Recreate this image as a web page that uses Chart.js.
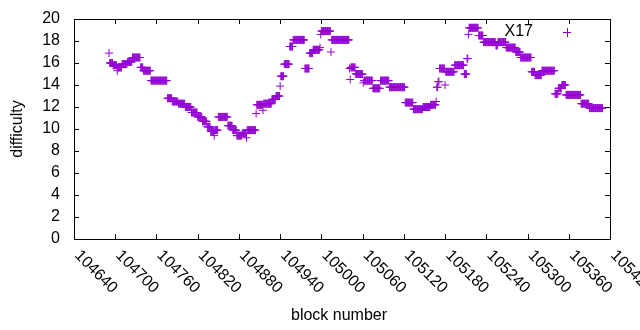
<!DOCTYPE html>
<html>
<head>
<meta charset="utf-8">
<script src="https://cdn.jsdelivr.net/npm/chart.js@4"></script>
<style>
  html, body { margin: 0; padding: 0; background: #fff; }
  #chart { display: block; }
</style>
</head>
<body>
<canvas id="chart" width="640" height="330"></canvas>
<script>
// difficulty per block, stored as runs of equal value starting at FIRST_BLOCK
const FIRST_BLOCK = 104691;
const runValues = [
  16.9, 16.0, 15.8, 15.3, 15.6, 15.9, 16.1, 16.5, 15.6, 15.3,
  14.4, 12.8, 12.5, 12.3, 12.0, 11.5, 11.1, 10.7, 10.2, 9.8,
  9.4, 9.9, 11.1, 10.3, 9.9, 9.4, 9.6, 9.2, 9.9, 11.4,
  12.2, 11.7, 12.3, 12.7, 13.0, 13.9, 14.8, 15.9, 17.5, 18.1,
  15.5, 16.9, 17.2, 17.4, 18.6, 18.9, 17.0, 18.1, 15.5, 14.5,
  15.6, 15.0, 14.2, 14.4, 13.7, 14.4, 13.8, 12.4, 11.8, 12.0,
  12.2, 12.5, 13.8, 14.3, 15.5, 14.0, 15.2, 15.8, 15.0, 16.4,
  18.6, 19.2, 18.5, 17.9, 17.6, 17.9, 17.4, 17.0, 16.5, 15.2,
  14.9, 15.3, 13.2, 13.7, 14.0, 13.1, 12.3, 11.9
];
const runLengths = [
  1, 5, 6, 1, 6, 8, 7, 12, 4, 11,
  24, 7, 9, 10, 9, 9, 7, 7, 5, 5,
  1, 5, 14, 7, 6, 8, 6, 1, 13, 1,
  9, 1, 12, 6, 6, 1, 5, 8, 5, 17,
  7, 5, 10, 1, 1, 14, 1, 26, 1, 1,
  7, 11, 1, 13, 11, 13, 23, 12, 14, 11,
  8, 1, 2, 2, 8, 1, 13, 14, 4, 2,
  1, 14, 7, 18, 3, 12, 14, 7, 16, 5,
  10, 19, 5, 5, 6, 22, 12, 20
];

const xTicks = [104640, 104700, 104760, 104820, 104880, 104940, 105000,
  105060, 105120, 105180, 105240, 105300, 105360, 105420];
const yTicks = [0, 2, 4, 6, 8, 10, 12, 14, 16, 18, 20];

const SERIES_LABEL = 'X17';
const COLOR = '#9400d3';
const FONT = '16px "Liberation Sans", Arial, sans-serif';
const TICK_LEN = 5;

const points = [];
let block = FIRST_BLOCK;
runValues.forEach((v, i) => {
  for (let k = 0; k < runLengths[i]; k++) {
    points.push({ x: block, y: v });
    block++;
  }
});

const gnuplotFrame = {
  id: 'gnuplotFrame',
  afterDraw(chart) {
    const { ctx, chartArea: a, scales: { x, y } } = chart;
    const L = Math.round(a.left), R = Math.round(a.right);
    const T = Math.round(a.top), B = Math.round(a.bottom);
    ctx.save();
    ctx.strokeStyle = '#000';
    ctx.lineWidth = 1;
    ctx.strokeRect(L + 0.5, T + 0.5, R - L, B - T);

    ctx.beginPath();
    xTicks.forEach(v => {
      const px = Math.round(x.getPixelForValue(v)) + 0.5;
      ctx.moveTo(px, B); ctx.lineTo(px, B - TICK_LEN);
      ctx.moveTo(px, T); ctx.lineTo(px, T + TICK_LEN);
    });
    yTicks.forEach(v => {
      const py = Math.round(y.getPixelForValue(v)) + 0.5;
      ctx.moveTo(L, py); ctx.lineTo(L + TICK_LEN, py);
      ctx.moveTo(R, py); ctx.lineTo(R - TICK_LEN, py);
    });
    ctx.stroke();

    ctx.fillStyle = '#000';
    ctx.font = FONT;
    ctx.textAlign = 'right';
    ctx.textBaseline = 'middle';
    yTicks.forEach(v => {
      ctx.fillText(String(v), L - 14, y.getPixelForValue(v));
    });

    ctx.textAlign = 'left';
    xTicks.forEach(v => {
      ctx.save();
      ctx.translate(x.getPixelForValue(v) + 3, B + 14);
      ctx.rotate(Math.PI / 4);
      ctx.fillText(String(v), 0, 0);
      ctx.restore();
    });

    // axis titles
    ctx.textAlign = 'center';
    ctx.fillText('block number', 339, 316);
    ctx.save();
    ctx.translate(18, (T + B) / 2);
    ctx.rotate(-Math.PI / 2);
    ctx.fillText('difficulty', 0, 0);
    ctx.restore();

    // key, gnuplot style: text then sample point
    ctx.textAlign = 'right';
    ctx.fillText(SERIES_LABEL, 533, 32);
    ctx.strokeStyle = COLOR;
    ctx.beginPath();
    ctx.moveTo(563, 32.5); ctx.lineTo(571, 32.5);
    ctx.moveTo(567.5, 28); ctx.lineTo(567.5, 37);
    ctx.stroke();
    ctx.restore();
  }
};

new Chart(document.getElementById('chart'), {
  type: 'scatter',
  data: {
    datasets: [{
      label: SERIES_LABEL,
      data: points,
      pointStyle: 'cross',
      pointRadius: 4,
      borderWidth: 1,
      borderColor: COLOR,
      backgroundColor: COLOR
    }]
  },
  options: {
    responsive: false,
    animation: false,
    events: [],
    layout: { padding: { top: 19, right: 30, left: 0, bottom: 0 } },
    plugins: {
      legend: { display: false },
      tooltip: { enabled: false }
    },
    scales: {
      x: {
        type: 'linear',
        min: 104640,
        max: 105420,
        ticks: { display: false, stepSize: 60 },
        grid: { display: false },
        border: { display: false },
        afterFit: s => { s.height = 91; }
      },
      y: {
        min: 0,
        max: 20,
        ticks: { display: false, stepSize: 2 },
        grid: { display: false },
        border: { display: false },
        afterFit: s => { s.width = 74; }
      }
    }
  },
  plugins: [gnuplotFrame]
});
</script>
</body>
</html>
